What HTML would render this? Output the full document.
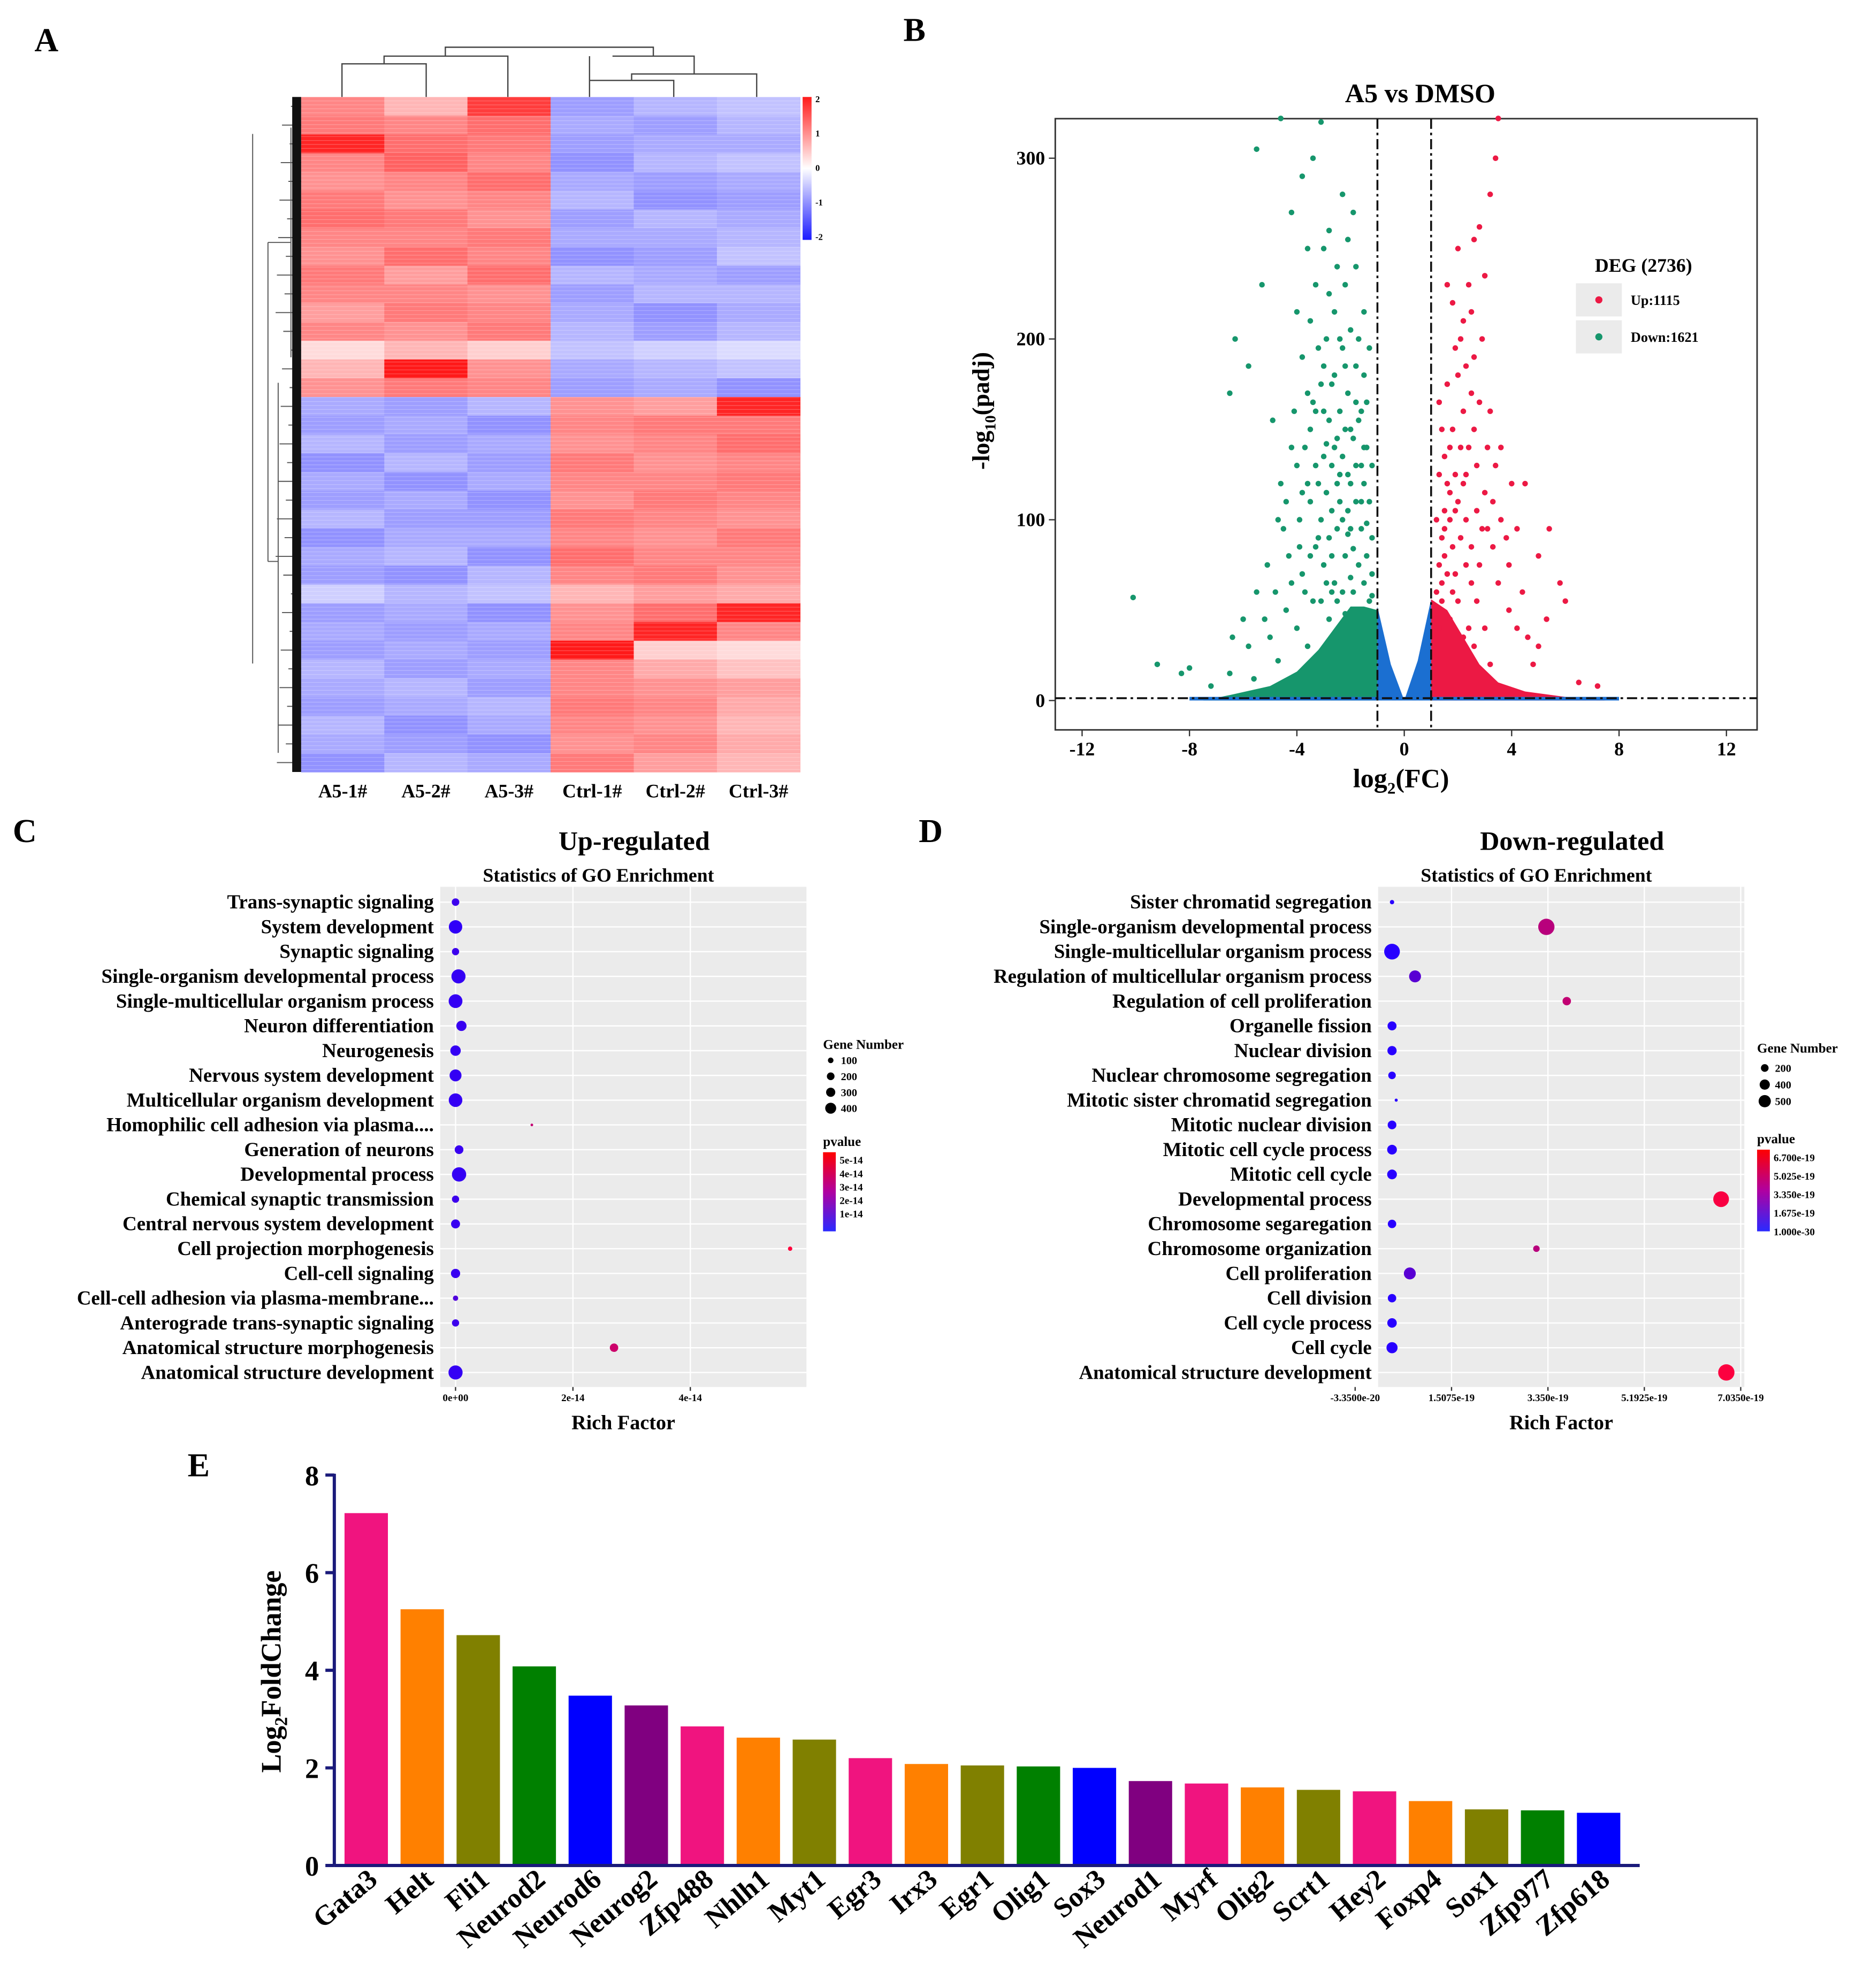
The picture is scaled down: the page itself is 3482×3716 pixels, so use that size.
<!DOCTYPE html>
<html><head><meta charset="utf-8">
<style>
html,body{margin:0;padding:0;background:#fff}
svg{display:block}
text{font-family:"Liberation Serif",serif;font-weight:bold;fill:#000}
</style></head>
<body>
<svg id="fig" width="3482" height="3716" viewBox="0 0 1460 1558" preserveAspectRatio="none" xmlns="http://www.w3.org/2000/svg">
<rect width="1460" height="1558" fill="#fff"/>
<g id="A"></g>
<g id="B"></g>
<g id="C"></g>
<g id="D"></g>
<g id="E"></g>
</svg>
<script>
const NS="http://www.w3.org/2000/svg";
function mk(parent,tag,attrs,txt){const e=document.createElementNS(NS,tag);for(const k in attrs)e.setAttribute(k,attrs[k]);if(txt!==undefined)e.textContent=txt;parent.appendChild(e);return e;}

// ---------- Panel A data ----------
const heatSamples=["A5-1#","A5-2#","A5-3#","Ctrl-1#","Ctrl-2#","Ctrl-3#"];
const heatRows=[
[1.0,0.6,1.6,-0.8,-0.6,-0.5],[1.1,1.0,1.2,-0.7,-0.8,-0.6],[1.8,1.2,1.1,-0.8,-0.7,-0.7],[1.0,1.3,1.0,-0.9,-0.6,-0.5],
[0.9,1.0,1.2,-0.7,-0.8,-0.7],[1.1,0.9,1.0,-0.6,-0.9,-0.8],[1.2,1.1,0.9,-0.8,-0.6,-0.7],[1.0,1.0,1.1,-0.7,-0.7,-0.6],
[0.9,1.2,1.0,-0.9,-0.8,-0.5],[1.1,0.8,1.2,-0.6,-0.7,-0.8],[1.0,1.0,0.9,-0.8,-0.6,-0.6],[0.8,1.1,1.0,-0.7,-0.9,-0.7],
[1.0,0.9,1.1,-0.6,-0.8,-0.6],[0.3,0.6,0.4,-0.5,-0.4,-0.3],[0.6,1.9,0.9,-0.7,-0.6,-0.5],[0.9,1.1,1.0,-0.8,-0.7,-0.9],
[-0.7,-0.8,-0.6,0.9,0.8,1.8],[-0.8,-0.7,-0.9,1.0,1.1,1.1],[-0.6,-0.8,-0.7,0.9,1.0,1.2],[-0.9,-0.6,-0.8,1.1,0.9,1.0],
[-0.7,-0.9,-0.7,1.0,1.0,1.1],[-0.8,-0.7,-0.9,0.9,1.1,1.0],[-0.6,-0.8,-0.8,1.1,1.0,0.9],[-0.9,-0.7,-0.7,1.0,0.9,1.1],
[-0.7,-0.6,-0.9,1.2,1.0,1.0],[-0.8,-0.9,-0.6,1.0,1.1,0.9],[-0.4,-0.6,-0.5,0.6,0.8,0.7],[-0.8,-0.7,-0.9,0.9,1.2,1.8],
[-0.7,-0.8,-0.7,1.0,1.8,1.0],[-0.8,-0.7,-0.8,1.9,0.4,0.3],[-0.6,-0.8,-0.7,1.0,0.7,0.5],[-0.7,-0.6,-0.8,1.0,0.9,0.8],
[-0.8,-0.7,-0.6,1.1,1.0,0.7],[-0.6,-0.9,-0.7,1.0,0.9,0.6],[-0.7,-0.8,-0.9,0.9,1.0,0.7],[-0.9,-0.6,-0.7,1.1,0.8,0.6]
];
// ---------- Panel B data ----------
const volGreen=[[-10.1,57],[-9.2,20],[-8.3,15],[-8.0,18],[-6.5,170],[-6.3,200],[-5.8,185],[-5.5,305],[-5.3,230],[-4.9,155],[-4.6,120],[-4.5,95],[-4.2,270],[-4.0,215],[-3.8,290],[-3.6,250],[-3.4,300],[-3.3,230],[-3.2,195],[-3.1,175],[-3.0,160],[-2.9,142],[-2.8,260],[-2.7,130],[-2.6,215],[-2.5,120],[-2.4,110],[-2.3,100],[-2.2,185],[-2.1,92],[-2.0,150],[-1.9,84],[-1.8,240],[-1.7,75],[-1.6,130],[-1.5,65],[-1.4,98],[-1.3,55],[-3.7,140],[-3.5,110],[-3.9,100],[-4.3,80],[-4.8,60],[-5.2,45],[-5.8,30],[-6.5,15],[-7.2,8],[-3.0,75],[-2.6,65],[-2.2,48],[-1.9,38],[-1.6,30],[-1.3,22],[-3.4,55],[-4.0,40],[-2.8,90],[-2.4,160],[-2.0,120],[-1.5,180],[-1.2,70],[-3.1,320],[-4.6,322],[-2.3,280],[-1.7,200],[-2.9,200],[-3.6,170],[-2.5,145],[-2.1,125],[-1.8,110],[-1.4,140],[-3.3,130],[-2.7,105],[-2.2,80],[-1.9,60],[-3.8,70],[-4.4,50],[-5.0,35],[-2.4,35],[-3.2,90],[-1.6,95],[-2.0,68],[-3.5,150],[-2.6,180],[-1.5,120],[-4.1,160],[-3.0,250],[-2.2,230],[-1.8,165],[-1.3,110],[-2.8,45],[-3.6,30],[-4.7,22],[-5.6,12],
[-2.1,105],[-2.3,135],[-2.5,95],[-2.7,80],[-2.9,115],[-3.1,100],[-3.3,85],[-2.0,95],[-1.8,130],[-1.6,110],[-1.4,80],[-1.2,90],[-2.2,150],[-2.4,125],[-2.6,140],[-2.8,155],[-3.0,135],[-3.2,120],[-3.4,165],[-3.6,120],[-1.9,145],[-1.7,155],[-1.5,140],[-2.3,60],[-2.5,55],[-2.7,60],[-2.9,65],[-3.1,55],[-3.5,80],[-3.7,60],[-3.9,85],[-4.2,65],[-4.4,110],[-4.0,130],[-3.8,115],[-2.1,170],[-2.3,195],[-2.0,205],[-1.8,185],[-1.6,160],[-1.4,165],[-1.2,130],[-2.7,175],[-3.3,160],[-3.0,185],[-2.4,200],[-1.5,215],[-1.3,195],[-2.8,225],[-2.1,255],[-1.9,270],[-2.5,240],[-3.5,210],[-3.8,190],[-4.2,140],[-4.7,100],[-5.1,75],[-5.5,60],[-6.0,45],[-6.4,35],[-1.1,45],[-1.2,58]];
const volRed=[[1.2,60],[1.4,90],[1.6,120],[1.8,150],[2.0,180],[2.2,210],[2.4,230],[2.6,255],[2.8,262],[3.0,235],[3.2,280],[3.5,322],[3.4,300],[2.9,200],[2.5,170],[2.1,140],[1.7,100],[1.5,80],[3.2,160],[3.6,140],[4.0,120],[4.5,120],[5.0,80],[5.4,95],[5.8,65],[6.0,55],[5.3,45],[5.0,30],[4.4,60],[3.8,90],[3.3,110],[2.7,130],[2.3,100],[1.9,70],[1.3,40],[6.5,10],[7.2,8],[4.8,20],[3.2,20],[2.4,40],[3.9,50],[4.2,95],[2.0,250],[1.8,220],[2.6,190],[3.0,115],[1.4,150],[1.6,175],[2.2,160],[2.5,85],[2.0,55],[1.7,45],[3.5,65],[2.8,75],[1.3,125],[2.3,125],[3.1,95],[1.5,105],[2.7,105],[3.0,40],
[1.3,75],[1.5,95],[1.7,115],[1.9,105],[2.1,90],[2.3,75],[2.5,65],[2.7,55],[2.9,95],[1.4,65],[1.6,70],[1.8,85],[2.0,110],[2.2,120],[2.4,140],[2.6,150],[2.8,165],[1.5,135],[1.7,140],[1.9,125],[2.1,200],[2.3,185],[2.5,215],[1.6,230],[1.9,195],[3.1,140],[3.4,130],[3.3,85],[3.6,100],[3.9,75],[4.2,40],[4.6,35],[1.2,100],[1.3,165],[1.8,60],[2.2,35],[2.6,30],[1.1,30],[1.2,50],[1.4,55]];
const volTicksX=[-12,-8,-4,0,4,8,12];
const volTicksY=[0,100,200,300];
// ---------- Panel C data ----------
const upTerms=["Trans-synaptic signaling","System development","Synaptic signaling","Single-organism developmental process","Single-multicellular organism process","Neuron differentiation","Neurogenesis","Nervous system development","Multicellular organism development","Homophilic cell adhesion via plasma....","Generation of neurons","Developmental process","Chemical synaptic transmission","Central nervous system development","Cell projection morphogenesis","Cell-cell signaling","Cell-cell adhesion via plasma-membrane...","Anterograde trans-synaptic signaling","Anatomical structure morphogenesis","Anatomical structure development"];
const upRich=[0.0,0.0,0.0,0.05,0.0,0.1,0.0,0.0,0.0,1.3,0.06,0.06,0.0,0.0,5.7,0.0,0.0,0.0,2.7,0.0]; // x1e-14
const upGenes=[120,380,110,420,400,220,230,300,390,15,160,430,110,170,40,180,60,110,150,420];
const upP=[0.5,0.2,0.5,0.3,0.3,0.4,0.3,0.3,0.3,4.0,0.4,0.3,0.5,0.4,5.5,0.4,1,0.5,4.2,0.3]; // x1e-14
const upTicks=[0,2,4];
const upTickLabels=["0e+00","2e-14","4e-14"];
// ---------- Panel D data ----------
const downTerms=["Sister chromatid segregation","Single-organism developmental process","Single-multicellular organism process","Regulation of multicellular organism process","Regulation of cell proliferation","Organelle fission","Nuclear division","Nuclear chromosome segregation","Mitotic sister chromatid segregation","Mitotic nuclear division","Mitotic cell cycle process","Mitotic cell cycle","Developmental process","Chromosome segaregation","Chromosome organization","Cell proliferation","Cell division","Cell cycle process","Cell cycle","Anatomical structure development"];
const downRich=[0.37,3.32,0.37,0.81,3.71,0.37,0.37,0.37,0.45,0.37,0.37,0.37,6.66,0.37,3.13,0.71,0.37,0.37,0.37,6.76]; // x1e-19
const downGenes=[40,560,520,300,150,170,180,120,20,160,200,200,520,150,90,300,150,190,260,560];
const downP=[0.01,4.5,0.01,1.5,4.8,0.01,0.01,0.01,0.01,0.01,0.01,0.01,6.5,0.01,4.5,1.5,0.01,0.01,0.01,6.6]; // x1e-19
const downTicks=[-0.335,1.5075,3.35,5.1925,7.035];
const downTickLabels=["-3.3500e-20","1.5075e-19","3.350e-19","5.1925e-19","7.0350e-19"];
// ---------- Panel E data ----------
const genes=["Gata3","Helt","Fli1","Neurod2","Neurod6","Neurog2","Zfp488","Nhlh1","Myt1","Egr3","Irx3","Egr1","Olig1","Sox3","Neurod1","Myrf","Olig2","Scrt1","Hey2","Foxp4","Sox1","Zfp977","Zfp618"];
const logFC=[7.22,5.25,4.72,4.08,3.48,3.28,2.85,2.62,2.58,2.2,2.08,2.05,2.03,2.0,1.73,1.68,1.6,1.55,1.52,1.32,1.15,1.13,1.08];
const barColors=["#f0147f","#ff8000","#808000","#008000","#0000ff","#800080","#f0147f","#ff8000","#808000","#f0147f","#ff8000","#808000","#008000","#0000ff","#800080","#f0147f","#ff8000","#808000","#f0147f","#ff8000","#808000","#008000","#0000ff"];
const eTicks=[0,2,4,6,8];

// ================= Panel A =================
(function(){
const g=document.getElementById('A');
const x0=236,x1=627,y0=76,y1=605;
const cw=(x1-x0)/heatSamples.length, rh=(y1-y0)/heatRows.length;
function col(v){v=Math.max(-2,Math.min(2,v));let r,gg,b;
 if(v>=0){const t=v/2;r=255;gg=Math.round(255*(1-t*0.95));b=gg;}else{const t=-v/2;b=255;r=Math.round(255*(1-t*0.95));gg=r;}
 return `rgb(${r},${gg},${b})`;}
heatRows.forEach((row,i)=>row.forEach((v,j)=>{
 const c=mk(g,'rect',{x:x0+j*cw,y:y0+i*rh,width:cw+0.3,height:rh+0.3,fill:col(v)});
 
 
}));
for(let y=y0;y<y1;y+=3.1){mk(g,'line',{x1:x0,x2:x1,y1:y,y2:y,stroke:'#fff','stroke-width':0.5,opacity:0.25});}
heatSamples.forEach((s,j)=>{const t=mk(g,'text',{x:x0+j*cw+cw/2,y:625,'font-size':15,'text-anchor':'middle','font-weight':'normal'},s);
 });
const d1=mk(g,'path',{d:"M268 76V50H334V76 M301 50V44H398V76 M349 44V37H512V44 M462 76V63H528V76 M495 63V58H593V76 M544 58V44H480 M462 63V44 M512 44V44",fill:'none',stroke:'#444','stroke-width':1});

let lp="";
for(let i=0;i<36;i++){const y=y0+i*rh+rh/2;const d=8+((i*7)%13);lp+=`M${236} ${y}H${236-d}`;}
lp+="M228 100V280M218 300V590M210 190V440M198 105V520M210 190H228M210 440H218";
const d2=mk(g,'path',{d:lp,fill:'none',stroke:'#555','stroke-width':0.8});

mk(g,'rect',{x:229,y:76,width:7,height:529,fill:'#111'});
const grad=mk(g,'linearGradient',{id:'hg',x1:0,y1:0,x2:0,y2:1});
[[0,'#ff1a1a'],[0.5,'#ffffff'],[1,'#1a1aff']].forEach(s=>mk(grad,'stop',{offset:s[0],'stop-color':s[1]}));
const cb=mk(g,'rect',{x:629,y:76,width:7,height:112,fill:'url(#hg)'});

["2","1","0","-1","-2"].forEach((l,i)=>mk(g,'text',{x:639,y:80+i*27,'font-size':7,'font-weight':'normal'},l));
mk(g,'text',{x:27,y:40,'font-size':26},'A');
})();

// ================= Panel B =================
(function(){
const g=document.getElementById('B');
const L=827,R=1377,T=93,Bt=572;
const sx=v=>1100.5+v*21.04, sy=v=>549-v*1.4167;
mk(g,'rect',{x:L,y:T,width:R-L,height:Bt-T,fill:'#fff',stroke:'#333','stroke-width':1.2});
const poly=(pts,fill,name)=>{const p=mk(g,'polygon',{points:pts.map(q=>sx(q[0])+','+sy(q[1])).join(' '),fill:fill});
 };
poly([[-1,50],[-1,0],[-7.5,0],[-6.5,3],[-5,8],[-4,16],[-3.2,28],[-2.5,42],[-2,52],[-1.5,52]],'#16966c','down-dense-cloud');
poly([[1,56],[1,0],[7.5,0],[6,2],[4.5,5],[3.5,10],[2.8,20],[2.2,35],[1.6,50]],'#ec1944','up-dense-cloud');
poly([[-1,52],[-0.5,20],[0,0],[0.5,22],[1,56],[1,0.5],[-1,0.5]],'#1b6fd1','ns-cloud');
poly([[-8,0],[8,0],[8,2],[-8,2]],'#1b6fd1','ns-base');
volGreen.forEach(p=>{const c=mk(g,'circle',{cx:sx(p[0]),cy:sy(p[1]),r:2.2,fill:'#16966c'});
 });
volRed.forEach(p=>{const c=mk(g,'circle',{cx:sx(p[0]),cy:sy(p[1]),r:2.2,fill:'#ec1944'});
 });
[-1,1].forEach(v=>mk(g,'line',{x1:sx(v),x2:sx(v),y1:T,y2:Bt,stroke:'#111','stroke-width':1.5,'stroke-dasharray':'8,3,2,3'}));
mk(g,'line',{x1:L,x2:R,y1:sy(1.3),y2:sy(1.3),stroke:'#111','stroke-width':1.5,'stroke-dasharray':'8,3,2,3'});
volTicksX.forEach(v=>{mk(g,'line',{x1:sx(v),x2:sx(v),y1:Bt,y2:Bt+5,stroke:'#333'});
 const t=mk(g,'text',{x:sx(v),y:Bt+20,'font-size':15,'text-anchor':'middle'},v);
 });
volTicksY.forEach(v=>{mk(g,'line',{x1:L-5,x2:L,y1:sy(v),y2:sy(v),stroke:'#333'});
 const t=mk(g,'text',{x:L-8,y:sy(v)+5,'font-size':15,'text-anchor':'end'},v);
 });
const tt=mk(g,'text',{x:1113,y:80,'font-size':21,'text-anchor':'middle'},'A5 vs DMSO');
const xl=mk(g,'text',{x:1098,y:617,'font-size':21,'text-anchor':'middle'});
xl.innerHTML='log<tspan font-size="13" dy="5">2</tspan><tspan dy="-5">(FC)</tspan>';
const yl=mk(g,'text',{transform:'translate(775,322) rotate(-90)','font-size':19,'text-anchor':'middle'});
yl.innerHTML='-log<tspan font-size="12" dy="5">10</tspan><tspan dy="-5">(padj)</tspan>';
mk(g,'text',{x:1288,y:213,'font-size':15,'text-anchor':'middle'},'DEG (2736)');
mk(g,'rect',{x:1235,y:222,width:36,height:26,fill:'#ebebeb'});
mk(g,'rect',{x:1235,y:251,width:36,height:26,fill:'#ebebeb'});
mk(g,'circle',{cx:1253,cy:235,r:2.8,fill:'#ec1944'});
mk(g,'circle',{cx:1253,cy:264,r:2.8,fill:'#16966c'});
mk(g,'text',{x:1278,y:239,'font-size':11},'Up:1115');
mk(g,'text',{x:1278,y:268,'font-size':11},'Down:1621');
mk(g,'text',{x:708,y:32,'font-size':26},'B');
})();

// ================= GO panels =================
function goPanel(id,L,terms,rich,genes,pv,ticks,tickLabels,sx,pmax,letter,lx,title,titleX,legX,gnLabels,gnRad,pLabels){
const g=document.getElementById(id);
const R=L+287,T=695,B=1087;
mk(g,'rect',{x:L,y:T,width:R-L,height:B-T,fill:'#ebebeb'});
const ys=i=>707+i*19.4;
terms.forEach((t,i)=>{mk(g,'line',{x1:L,x2:R,y1:ys(i),y2:ys(i),stroke:'#fff','stroke-width':1});});
ticks.forEach(v=>mk(g,'line',{x1:sx(v),x2:sx(v),y1:T,y2:B,stroke:'#fff','stroke-width':1}));
function pc(p){const t=Math.min(1,p/pmax);const r=Math.round(40+215*t),b=Math.round(255*(1-t)+60*t);return `rgb(${r},0,${b})`;}
terms.forEach((t,i)=>{
 const lab=mk(g,'text',{x:L-5,y:ys(i)+5,'font-size':15.5,'text-anchor':'end'},t);
 
 const c=mk(g,'circle',{cx:sx(rich[i]),cy:ys(i),r:Math.max(1,Math.sqrt(genes[i])*0.27),fill:pc(pv[i])});
 
});
ticks.forEach((v,i)=>{mk(g,'line',{x1:sx(v),x2:sx(v),y1:B,y2:B+3,stroke:'#333'});
 const t=mk(g,'text',{x:sx(v),y:B+11,'font-size':8,'text-anchor':'middle','font-weight':'normal'},tickLabels[i]);
 });
mk(g,'text',{x:(L+R)/2,y:1120,'font-size':16,'text-anchor':'middle'},'Rich Factor');
mk(g,'text',{x:titleX,y:666,'font-size':21,'text-anchor':'middle'},title);
mk(g,'text',{x:titleX-28,y:691,'font-size':15,'text-anchor':'middle'},'Statistics of GO Enrichment');
mk(g,'text',{x:lx,y:660,'font-size':26},letter);
mk(g,'text',{x:legX,y:id==='C'?822:825,'font-size':10.5,'font-weight':'normal'},'Gene Number');
gnLabels.forEach((l,i)=>{const y=(id==='C'?834:840)+i*(id==='C'?12.5:13);
 mk(g,'circle',{cx:legX+6,cy:y-3,r:gnRad[i],fill:'#000'});
 mk(g,'text',{x:legX+14,y:y,'font-size':8.5},l);});
const py=id==='C'?898:896;
mk(g,'text',{x:legX,y:py,'font-size':10.5,'font-weight':'normal'},'pvalue');
const gid='pg'+id;const gr=mk(g,'linearGradient',{id:gid,x1:0,y1:0,x2:0,y2:1});
mk(gr,'stop',{offset:0,'stop-color':'#ff0000'});mk(gr,'stop',{offset:0.5,'stop-color':'#b000a0'});mk(gr,'stop',{offset:1,'stop-color':'#2a2aff'});
mk(g,'rect',{x:legX,y:py+5,width:10,height:id==='C'?62:64,fill:'url(#'+gid+')'});
pLabels.forEach((l,i)=>mk(g,'text',{x:legX+13,y:py+14+i*(id==='C'?10.5:14.5),'font-size':8},l));
}
goPanel('C',345,upTerms,upRich,upGenes,upP,upTicks,upTickLabels,v=>357+v*46,5.5,'C',10,'Up-regulated',497,645,
 ['100','200','300','400'],[2.2,3,3.6,4.3],['5e-14','4e-14','3e-14','2e-14','1e-14']);
goPanel('D',1080,downTerms,downRich,downGenes,downP,downTicks,downTickLabels,v=>1062+(v+0.335)*41,6.7,'D',720,'Down-regulated',1232,1377,
 ['200','400','500'],[3,4,4.8],['6.700e-19','5.025e-19','3.350e-19','1.675e-19','1.000e-30']);

// ================= Panel E =================
(function(){
const g=document.getElementById('E');
const ax=262, y0=1462, k=38.25;
const sy=v=>y0-v*k;
const step=43.9, bw=34, x0=270;
logFC.forEach((v,i)=>{const r=mk(g,'rect',{x:x0+i*step,y:sy(v),width:bw,height:v*k,fill:barColors[i]});
 
 const cx=x0+i*step+bw/2+10;
 const t=mk(g,'text',{x:cx,y:1475,'font-size':22,'text-anchor':'end',transform:`rotate(-40 ${cx} 1475)`},genes[i]);
 });
const yax=mk(g,'line',{x1:ax,x2:ax,y1:1155,y2:y0,stroke:'#1a1a7a','stroke-width':2.5});
const xax=mk(g,'line',{x1:ax,x2:1285,y1:y0,y2:y0,stroke:'#1a1a7a','stroke-width':2.5});
eTicks.forEach(v=>{mk(g,'line',{x1:ax-7,x2:ax,y1:sy(v),y2:sy(v),stroke:'#1a1a7a','stroke-width':2.5});
 const t=mk(g,'text',{x:ax-12,y:sy(v)+8,'font-size':22,'text-anchor':'end'},v);
 });
const yl=mk(g,'text',{transform:'translate(220,1310) rotate(-90)','font-size':22,'text-anchor':'middle'});

yl.innerHTML='Log<tspan font-size="14" dy="5">2</tspan><tspan dy="-5">FoldChange</tspan>';
mk(g,'text',{x:147,y:1157,'font-size':26},'E');
})();
</script>
</body></html>
